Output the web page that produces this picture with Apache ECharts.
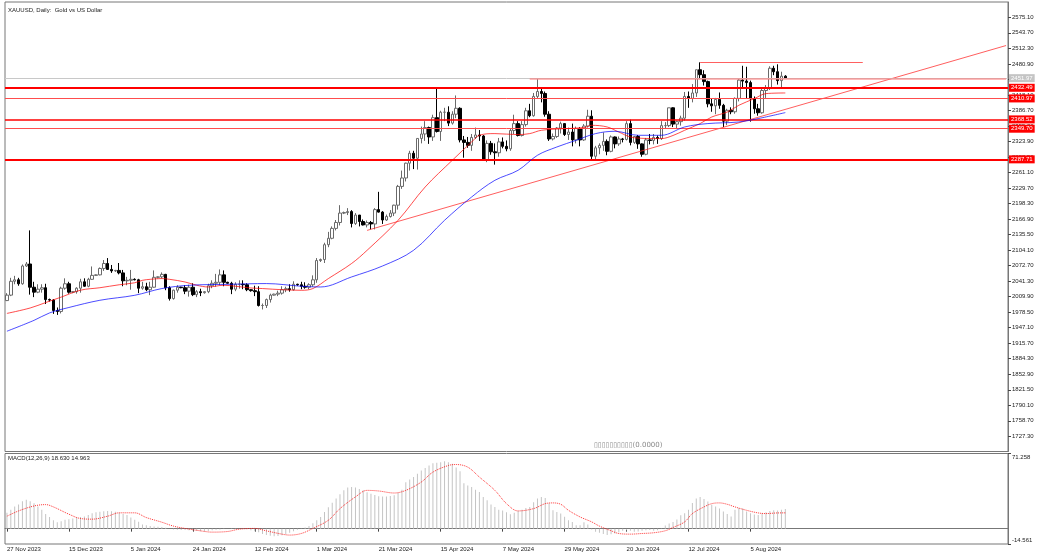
<!DOCTYPE html>
<html><head><meta charset="utf-8">
<script src="https://cdn.jsdelivr.net/npm/echarts@6/dist/echarts.min.js"></script>
<style>html,body{margin:0;padding:0;background:#fff}#c{width:1039px;height:560px}</style>
</head><body><div id="c"></div>
<script>
const titleText = 'XAUUSD, Daily:  Gold vs US Dollar';
const macdTitle = 'MACD(12,26,9) 18.630 14.963';
const dateLabels = ['27 Nov 2023','15 Dec 2023','5 Jan 2024','24 Jan 2024','12 Feb 2024','1 Mar 2024','21 Mar 2024','15 Apr 2024','7 May 2024','29 May 2024','20 Jun 2024','12 Jul 2024','5 Aug 2024'];
const barsPerDateLabel = 16;
const totalSlots = 259;
const priceTicks = [1727.30,1758.70,1790.10,1821.50,1852.90,1884.30,1915.70,1947.10,1978.50,2009.90,2041.30,2072.70,2104.10,2135.50,2166.90,2198.30,2229.70,2261.10,2292.50,2323.90,2355.30,2386.70,2418.10,2449.50,2480.90,2512.30,2543.70,2575.10];
const macdTicks = [71.258, -14.561];
// [open, high, low, close]
const candles = [
[2002,2017,2001,2013],[2013,2048,2011,2041],[2041,2052,2035,2044],[2044,2048,2032,2036],[2036,2075,2034,2072],
[2072,2080,2070,2076],[2076,2144,2014,2029],[2029,2040,2009,2019],[2019,2035,2017,2025],[2025,2035,2018,2028],
[2028,2036,1995,2004],[2004,2006,2000,2003],[2003,2005,1975,1982],[1982,1988,1973,1980],[1980,2030,1976,2027],
[2027,2047,2024,2036],[2036,2040,2016,2019],[2019,2021,2017,2020],[2020,2029,2016,2027],[2027,2046,2018,2040],
[2040,2047,2030,2031],[2031,2048,2029,2045],[2045,2071,2044,2053],[2053,2055,2052,2054],[2054,2069,2053,2067],
[2067,2084,2062,2077],[2077,2088,2064,2065],[2065,2074,2058,2062],[2062,2064,2060,2063],[2063,2078,2055,2058],
[2058,2064,2031,2042],[2042,2050,2033,2043],[2043,2064,2024,2045],[2045,2047,2043,2044],[2044,2046,2017,2027],
[2027,2040,2024,2030],[2030,2038,2021,2024],[2024,2040,2013,2029],[2029,2063,2028,2049],[2049,2051,2047,2050],
[2050,2059,2047,2055],[2055,2056,2023,2028],[2028,2031,2002,2006],[2006,2024,2004,2023],[2023,2033,2018,2029],
[2029,2030,2027,2028],[2028,2033,2015,2021],[2021,2034,2010,2029],[2029,2037,2011,2014],[2014,2023,2009,2020],
[2020,2026,2011,2018],[2018,2021,2016,2020],[2020,2036,2017,2032],[2032,2043,2027,2037],[2037,2056,2030,2039],
[2039,2065,2033,2054],[2054,2063,2031,2039],[2039,2040,2036,2037],[2037,2040,2015,2025],[2025,2039,2021,2035],
[2035,2043,2026,2035],[2035,2043,2025,2034],[2034,2037,2021,2024],[2024,2025,2020,2022],[2022,2032,2011,2020],
[2020,2031,1990,1992],[1992,1996,1984,1992],[1992,2006,1987,2004],[2004,2016,1998,2013],[2013,2016,2012,2015],
[2015,2022,2011,2017],[2017,2031,2014,2024],[2024,2030,2019,2026],[2026,2035,2020,2024],[2024,2041,2022,2035],
[2035,2036,2032,2034],[2034,2040,2025,2031],[2031,2039,2026,2029],[2029,2037,2025,2034],[2034,2053,2030,2044],
[2044,2088,2038,2083],[2083,2087,2080,2085],[2085,2119,2078,2115],[2115,2141,2110,2128],[2128,2152,2126,2148],
[2148,2165,2144,2160],[2160,2195,2154,2179],[2179,2182,2177,2180],[2180,2189,2175,2182],[2182,2185,2150,2158],
[2158,2179,2155,2175],[2175,2175,2152,2162],[2162,2166,2154,2155],[2155,2164,2150,2160],[2160,2163,2146,2157],
[2157,2189,2146,2186],[2186,2222,2180,2181],[2181,2183,2157,2165],[2165,2176,2163,2172],[2172,2185,2170,2179],
[2179,2196,2173,2195],[2195,2236,2186,2233],[2233,2265,2228,2250],[2250,2281,2243,2280],[2280,2305,2265,2300],
[2300,2305,2268,2290],[2290,2330,2267,2330],[2330,2354,2320,2339],[2339,2365,2325,2352],[2352,2354,2319,2333],
[2333,2378,2325,2372],[2372,2431,2342,2344],[2344,2386,2325,2383],[2383,2392,2365,2383],[2383,2395,2355,2361],
[2361,2385,2358,2379],[2379,2417,2371,2391],[2391,2393,2322,2327],[2327,2335,2291,2322],[2322,2333,2311,2316],
[2316,2339,2305,2332],[2332,2352,2329,2337],[2337,2347,2325,2335],[2335,2337,2285,2286],[2286,2326,2282,2320],
[2320,2325,2297,2303],[2303,2320,2277,2301],[2301,2331,2293,2323],[2323,2332,2310,2314],[2314,2326,2304,2309],
[2309,2350,2305,2346],[2346,2378,2339,2360],[2360,2365,2334,2336],[2336,2365,2334,2358],[2358,2392,2354,2386],
[2386,2400,2373,2376],[2376,2422,2374,2415],[2415,2450,2410,2425],[2425,2432,2403,2421],[2421,2425,2374,2379],
[2379,2385,2325,2329],[2329,2340,2326,2334],[2334,2353,2331,2351],[2351,2364,2340,2360],[2360,2361,2335,2338],
[2338,2352,2327,2343],[2343,2360,2314,2327],[2327,2354,2320,2350],[2350,2353,2314,2327],[2327,2359,2325,2355],
[2355,2388,2352,2375],[2375,2387,2287,2294],[2294,2315,2286,2311],[2311,2320,2298,2316],[2316,2342,2305,2324],
[2324,2328,2296,2304],[2304,2336,2302,2333],[2333,2334,2310,2319],[2319,2334,2315,2329],[2329,2331,2322,2328],
[2328,2365,2326,2360],[2360,2368,2316,2322],[2322,2335,2319,2334],[2334,2337,2309,2319],[2319,2320,2293,2298],
[2298,2331,2296,2327],[2327,2339,2318,2326],[2326,2339,2318,2332],[2332,2336,2319,2330],[2330,2365,2327,2356],
[2356,2363,2350,2356],[2356,2392,2353,2392],[2392,2393,2353,2359],[2359,2366,2350,2364],[2364,2376,2356,2371],
[2371,2424,2366,2415],[2415,2425,2392,2411],[2411,2440,2403,2422],[2422,2469,2414,2469],[2469,2484,2450,2459],
[2459,2468,2437,2445],[2445,2447,2393,2400],[2400,2410,2384,2396],[2396,2412,2379,2409],[2409,2423,2390,2397],
[2397,2400,2353,2365],[2365,2390,2357,2387],[2387,2393,2379,2384],[2384,2413,2380,2411],[2411,2450,2405,2448],
[2448,2477,2432,2446],[2446,2475,2410,2443],[2443,2447,2364,2410],[2410,2415,2380,2390],[2390,2400,2376,2382],
[2382,2430,2380,2427],[2427,2438,2412,2431],[2431,2476,2428,2472],[2472,2477,2458,2465],[2465,2480,2439,2447],
[2447,2465,2432,2456],[2456,2458,2451,2452]
];
// moving averages: [bar index, price]
const maRed = [[0,1976],[6,1987],[10,1998],[14,2009],[19,2023],[24,2028],[29,2034],[33,2038],[35,2043],[37,2045],[40,2046.5],[42,2045],[46,2039.6],[49,2033],[52,2029.5],[56,2033],[59,2031],[63,2027.5],[66,2026.3],[71,2024],[76,2022.8],[79,2026.3],[83,2046.5],[89,2077],[93,2103.7],[101,2164.4],[108,2231.8],[115,2285.8],[120,2322.8],[122,2336.4],[126,2339.8],[132,2337.8],[135,2339.8],[138,2346.5],[144,2349.9],[149,2352],[151,2356.6],[155,2353.2],[158,2343],[161,2333],[165,2330],[169,2329.7],[172,2336],[175,2346.5],[179,2360.1],[182,2373.4],[186,2383.5],[189,2397.1],[193,2410.6],[196,2420.7],[201,2422]];
const maBlue = [[0,1940],[7,1962],[11,1977],[16,1988],[24,2002.6],[33,2012.7],[40,2026.3],[47,2032.9],[58,2035],[67,2036.4],[76,2031],[81,2029.5],[89,2049.8],[97,2072],[105,2103.7],[113,2164.4],[120,2211.6],[126,2245.3],[132,2265.6],[137,2296],[142,2312.7],[147,2326.3],[152,2339.8],[157,2344.5],[163,2336.4],[169,2336.4],[175,2353.2],[181,2360.1],[189,2363.3],[194,2370.2],[201,2382.3]];
const trendLine = [[93,2144],[258,2518]];
const levelValues = [2432.49, 2410.97, 2368.52, 2349.70, 2287.71];
const levelWidths = [2, 1, 1.5, 1, 2];
const bidPrice = 2451.97;
const mayHighLine = [[135,2450],[258,2450]];
const julyHighLine = [[179,2484],[221,2484]];
const macdHist = [
15,18,21,23,26,27.5,26,24,21,18,
14,11,8,6,7,8.5,9,9.6,10.5,11,
11.5,13,14.5,15.5,16,16.5,16.8,16.5,16,15,
14,13,10.5,8.5,6.5,4,3.3,2.5,2,1.7,
1.5,0.8,0,-0.8,-1,-1.2,-1.4,-1.6,-1.8,-2.1,
-2.4,-2.7,-2.2,-1.5,-1,-0.8,-0.3,0,0.2,0.1,
0,0.2,-0.5,-1.5,-2.5,-3.5,-5,-6.1,-6.8,-7.1,
-7,-6.2,-5.2,-4,-2.5,-1,0.2,1,2.4,5,
8,11,15.7,20.4,24.5,28.5,32.5,36.3,39,39.4,
39,37.5,36.3,34.5,33,32,30.7,30.4,30.5,31,
31.6,34,37,44,46.5,48.9,52,55.2,57.5,59.9,
62.1,62.5,63,63.9,63,61.5,58,54.5,43,41,
39.4,37,34.7,30,26.9,23,20.6,18,17.3,15.5,
13.7,15,17,18,19.5,20.6,25,28.5,30,29,
24,17.4,15.8,14.3,11.2,8,6.4,3.3,3.3,6,
4,-0.8,-3,-3.9,-5,-6.1,-5.2,-4.6,-3.5,-2.1,
-1.5,-2.1,-3,-2.8,-2.1,-1.5,-1.4,-2.1,-1.5,0.2,
3,4.9,6.4,8.6,12.7,14.5,17.9,24.4,28.5,29.9,
28,25.7,22.6,21,19,16.3,14,11.5,17.9,19.5,
19,16.3,14.7,13.5,13,14.7,15.5,16.8,17.5,17.2,
18,18.63
];
const macdSignal = [[0,11.8],[3,16.8],[7,21.5],[10,22.8],[12,20.6],[16,13.7],[19,9.6],[22,9],[26,11.8],[29,15],[33,15],[36,10.5],[40,6.1],[43,2.4],[46,0.2],[50,-2.1],[53,-3.3],[57,-2.7],[60,-0.5],[64,0.2],[67,-2.1],[71,-5.2],[73,-6.1],[76,-4.6],[79,0.2],[83,8],[86,19],[90,30.1],[93,36.3],[96,35.7],[100,33.8],[103,36.3],[107,44.2],[110,53.6],[114,59.9],[116,60.8],[119,58.3],[122,48.9],[126,36.3],[129,23.7],[132,16.8],[136,19],[139,23.7],[141,24.4],[143,23.1],[145,17.4],[148,11.1],[151,6.4],[153,2.4],[156,-2],[158,-4.6],[161,-5.2],[164,-4.6],[167,-3.9],[170,-2],[172,1.1],[175,6.4],[177,14.3],[180,20.6],[182,23.7],[184,24.4],[186,23.1],[188,20.6],[191,17.4],[194,14.9],[196,14.3],[199,14.9],[201,14.96]];

const FONT = 'Liberation Sans';
const cats = Array.from({length: totalSlots}, (_, i) => String(i));
const isDateIdx = (i) => i % barsPerDateLabel === 0 && i / barsPerDateLabel < dateLabels.length;
const ecCandles = candles.map(c => [c[0], c[3], c[2], c[1]]);

const redLabel = (txt, bg) => ({
  show: true, position: 'end', distance: 1, formatter: txt,
  backgroundColor: bg, color: '#ffffff', fontSize: 6, fontFamily: FONT,
  padding: [1, 2, 0, 2], lineHeight: 7
});
const levelMarks = levelValues.map((v, k) => ({
  yAxis: v,
  lineStyle: {color: levelWidths[k] >= 1.5 ? '#ff0000' : '#ff4d4d', width: levelWidths[k], type: 'solid'},
  label: redLabel(v.toFixed(2), '#ff0000')
}));
levelMarks.unshift({
  yAxis: bidPrice,
  lineStyle: {color: '#c8c8c8', width: 1, type: 'solid'},
  label: redLabel(bidPrice.toFixed(2), '#c4c4c4')
});
levelMarks.push([
  {coord: mayHighLine[0], lineStyle: {color: 'rgba(255,120,120,0.7)', width: 1.5, type: 'solid'}, label: {show: false}},
  {coord: mayHighLine[1]}
]);
levelMarks.push([
  {coord: julyHighLine[0], lineStyle: {color: '#ff6060', width: 1, type: 'solid'}, label: {show: false}},
  {coord: julyHighLine[1]}
]);

const lblStyle = {fontSize: 6, color: '#222', fontFamily: FONT};
const chart = echarts.init(document.getElementById('c'), null, {renderer: 'canvas'});
chart.setOption({
  animation: false,
  backgroundColor: '#ffffff',
  textStyle: {fontFamily: FONT},
  title: [
    {text: titleText, left: 8, top: 7, padding: 0, textStyle: {fontSize: 6, fontWeight: 'normal', color: '#222', fontFamily: FONT}},
    {text: macdTitle, left: 8, top: 455, padding: 0, textStyle: {fontSize: 6, fontWeight: 'normal', color: '#222', fontFamily: FONT}}
  ],
  graphic: [
    {type: 'text', left: 594, top: 442, silent: true, style: {text: '▯▯▯▯▯▯▯▯▯▯(0.0000)', fontSize: 7, fill: '#888', fontFamily: 'DejaVu Sans'}}
  ],
  grid: [
    {left: 5, top: 2, width: 1003, height: 449.5, show: true, borderColor: '#777', borderWidth: 1, backgroundColor: 'transparent', outerBoundsMode: 'none', containLabel: false},
    {left: 5, top: 453.5, width: 1003, height: 90.5, show: true, borderColor: '#777', borderWidth: 1, backgroundColor: 'transparent', outerBoundsMode: 'none', containLabel: false}
  ],
  xAxis: [
    {type: 'category', gridIndex: 0, data: cats, boundaryGap: true,
     axisLine: {show: false}, axisTick: {show: false}, axisLabel: {show: false}, splitLine: {show: false}},
    {type: 'category', gridIndex: 1, data: cats, boundaryGap: true,
     axisLine: {show: true, lineStyle: {color: '#777'}},
     axisTick: {show: true, alignWithLabel: true, interval: (i) => isDateIdx(i), length: 3, lineStyle: {color: '#444'}},
     axisLabel: {show: true, interval: (i) => isDateIdx(i), formatter: (v, i) => dateLabels[Math.round(i / barsPerDateLabel)] || '',
       align: 'left', fontSize: 6, color: '#222', margin: 2, fontFamily: FONT, hideOverlap: false},
     splitLine: {show: false}}
  ],
  yAxis: [
    {type: 'value', gridIndex: 0, position: 'right', min: 1696.65, max: 2606.05, scale: true,
     axisLine: {show: true, lineStyle: {color: '#777'}},
     axisTick: {show: true, length: 3, customValues: priceTicks, lineStyle: {color: '#444'}},
     axisLabel: {show: true, customValues: priceTicks, formatter: (v) => Number(v).toFixed(2), fontSize: 6, color: '#222', margin: 4, fontFamily: FONT, hideOverlap: false},
     splitLine: {show: false}},
    {type: 'value', gridIndex: 1, position: 'right', min: -14.561, max: 71.258,
     axisLine: {show: true, lineStyle: {color: '#777'}},
     axisTick: {show: true, length: 3, customValues: macdTicks, lineStyle: {color: '#444'}},
     axisLabel: {show: true, customValues: macdTicks,
       formatter: (v) => (v > 0 ? '{t|' : '{b|') + Number(v).toFixed(3) + '}',
       rich: {t: Object.assign({padding: [7, 0, 0, 0]}, lblStyle), b: Object.assign({padding: [0, 0, 7, 0]}, lblStyle)},
       fontSize: 6, color: '#222', margin: 4, fontFamily: FONT, hideOverlap: false},
     splitLine: {show: false}}
  ],
  series: [
    {type: 'line', name: 'levels', xAxisIndex: 0, yAxisIndex: 0, data: [], z: 1, silent: true,
     markLine: {silent: true, symbol: ['none', 'none'], animation: false, precision: 2, data: levelMarks}},
    {type: 'candlestick', name: 'XAUUSD', xAxisIndex: 0, yAxisIndex: 0, data: ecCandles, barWidth: 3, z: 3,
     itemStyle: {color: '#ffffff', color0: '#000000', borderColor: '#6a6a6a', borderColor0: '#000000', borderWidth: 1}},
    {type: 'line', name: 'trend', xAxisIndex: 0, yAxisIndex: 0, data: trendLine, showSymbol: false, z: 4, silent: true,
     lineStyle: {color: 'rgba(255,40,40,0.75)', width: 1}},
    {type: 'line', name: 'MA red', xAxisIndex: 0, yAxisIndex: 0, data: maRed, smooth: 0.35, showSymbol: false, z: 5, silent: true,
     lineStyle: {color: 'rgba(255,0,0,0.7)', width: 1}},
    {type: 'line', name: 'MA blue', xAxisIndex: 0, yAxisIndex: 0, data: maBlue, smooth: 0.35, showSymbol: false, z: 5, silent: true,
     lineStyle: {color: 'rgba(0,0,255,0.7)', width: 1}},
    {type: 'bar', name: 'MACD', xAxisIndex: 1, yAxisIndex: 1, data: macdHist, barWidth: 1, silent: true,
     itemStyle: {color: '#c4c4c4'}},
    {type: 'line', name: 'Signal', xAxisIndex: 1, yAxisIndex: 1, data: macdSignal, smooth: 0.35, showSymbol: false, silent: true, z: 4,
     lineStyle: {color: 'rgba(255,0,0,0.8)', width: 1, type: 'dotted'}}
  ]
});
</script>
</body></html>
